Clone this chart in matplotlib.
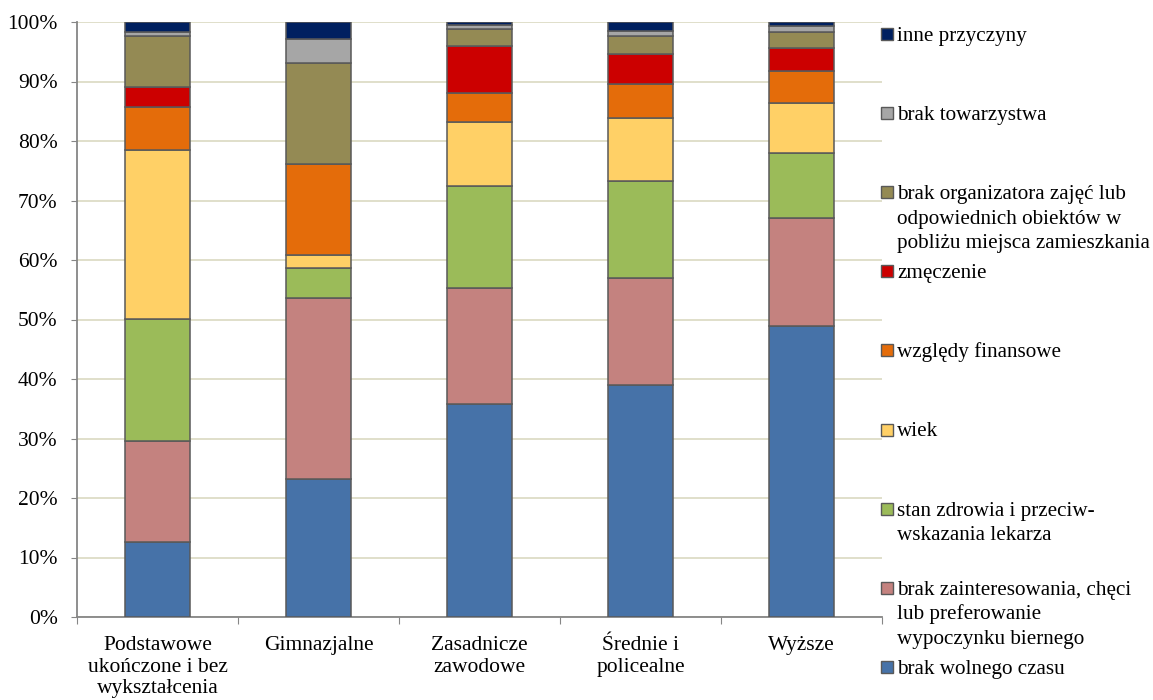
import matplotlib.pyplot as plt
from matplotlib.patches import Rectangle

plt.rcParams['font.family'] = ['Liberation Serif', 'DejaVu Serif']

categories = ["Podstawowe\nukończone i bez\nwykształcenia", "Gimnazjalne",
              "Zasadnicze\nzawodowe", "Średnie i\npolicealne", "Wyższe"]

# series listed bottom -> top
series_names = ["brak wolnego czasu",
                "brak zainteresowania, chęci\nlub preferowanie\nwypoczynku biernego",
                "stan zdrowia i przeciw-\nwskazania lekarza",
                "wiek",
                "względy finansowe",
                "zmęczenie",
                "brak organizatora zajęć lub\nodpowiednich obiektów w\npobliżu miejsca zamieszkania",
                "brak towarzystwa",
                "inne przyczyny"]

brak_czasu = [12.6, 23.2, 35.8, 39.0, 48.9]
brak_zainteresowania = [17.0, 30.4, 19.5, 18.0, 18.2]
stan_zdrowia = [20.5, 5.1, 17.1, 16.3, 10.8]
wiek = [28.4, 2.1, 10.8, 10.6, 8.5]
finansowe = [7.2, 15.3, 4.9, 5.6, 5.4]
zmeczenie = [3.4, 0.0, 7.9, 5.1, 3.8]
brak_organizatora = [8.5, 17.0, 2.8, 3.0, 2.7]
brak_towarzystwa = [0.8, 4.0, 0.7, 0.9, 1.0]
inne = [1.6, 2.9, 0.5, 1.5, 0.7]

values = [brak_czasu, brak_zainteresowania, stan_zdrowia, wiek, finansowe,
          zmeczenie, brak_organizatora, brak_towarzystwa, inne]
colors = ["#4672A8", "#C4827F", "#9BBB59", "#FFD066", "#E46C0A",
          "#CC0000", "#948A54", "#A6A6A6", "#002060"]

fs = 15.5

fig = plt.figure(figsize=(11.53, 7.0), dpi=100)
ax = fig.add_axes([77 / 1153, 1 - 617 / 700, (882 - 77) / 1153, (617 - 22) / 700])

x = range(len(categories))
bottom = [0.0] * len(categories)
for vals, col in zip(values, colors):
    ax.bar(x, vals, 0.4, bottom=bottom, color=col, edgecolor="#595959",
           linewidth=1.1, zorder=3)
    bottom = [b + v for b, v in zip(bottom, vals)]

ax.set_xlim(-0.5, len(categories) - 0.5)
ax.set_ylim(0, 100)
ax.set_yticks(range(0, 101, 10))
ax.set_yticklabels([f"{t}%" for t in range(0, 101, 10)], fontsize=fs)
ax.yaxis.grid(True, color="#DDDCC6", linewidth=1.3, zorder=0)
ax.set_xticks([i - 0.5 for i in range(len(categories) + 1)])
ax.set_xticklabels([])
ax.set_xticks(list(x), minor=True)
ax.set_xticklabels(categories, minor=True, fontsize=fs, linespacing=1.18)
ax.tick_params(axis='x', which='minor', length=0, pad=14)
ax.tick_params(axis='x', which='major', length=5, color="#868686", direction='out')
ax.tick_params(axis='y', length=4, color="#868686", direction='out', pad=10)
for s in ["top", "right"]:
    ax.spines[s].set_visible(False)
for s in ["left", "bottom"]:
    ax.spines[s].set_color("#868686")
    ax.spines[s].set_linewidth(1.3)

# legend drawn in figure pixels, top entry first (Excel-style)
top_base = 41
step = 79.1
line_h = 24.5
for i, (name, col) in enumerate(zip(series_names[::-1], colors[::-1])):
    yb = top_base + i * step
    fig.patches.append(Rectangle((881 / 1153, 1 - (yb - 1) / 700), 12 / 1153, 12 / 700,
                                 transform=fig.transFigure, facecolor=col,
                                 edgecolor="#595959", linewidth=1.0))
    for k, line in enumerate(name.split("\n")):
        fig.text(897 / 1153, 1 - (yb + k * line_h) / 700, line, fontsize=15.2,
                 va='baseline', ha='left')

fig.savefig("out.png", dpi=100)
